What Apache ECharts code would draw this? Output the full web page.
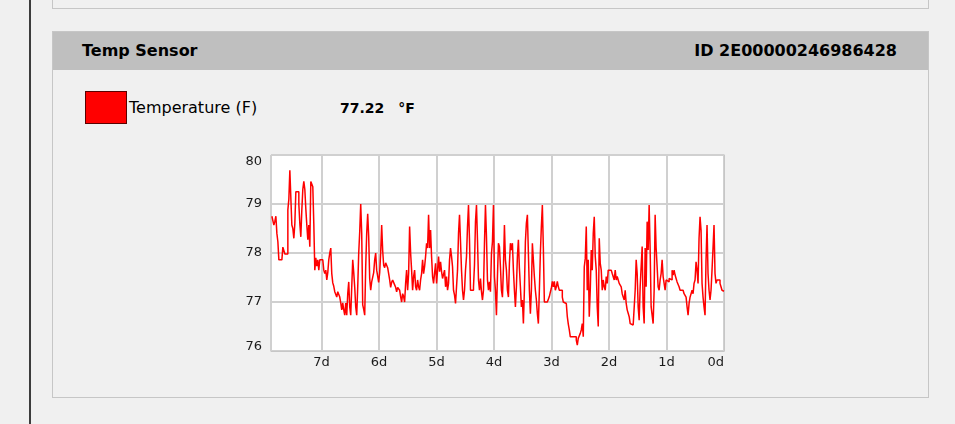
<!DOCTYPE html>
<html>
<head>
<meta charset="utf-8">
<title>Temp Sensor</title>
<script src="https://cdn.jsdelivr.net/npm/echarts@6/dist/echarts.min.js"></script>
<style>
  html, body { margin: 0; padding: 0; }
  body {
    width: 955px; height: 424px; overflow: hidden; position: relative;
    background: #f0f0f0; font-family: "DejaVu Sans", sans-serif; color: #000;
  }
  .vline { position: absolute; left: 29px; top: 0; width: 2px; height: 424px; background: #3c3c3c; }
  .prev { position: absolute; left: 52px; top: -10px; width: 875px; height: 17px; border: 1px solid #c6c6c6; background: #f0f0f0; }
  .panel { position: absolute; left: 52px; top: 31px; width: 875px; height: 365px; border: 1px solid #c6c6c6; background: #f0f0f0; }
  .head {
    position: absolute; left: 53px; top: 32px; width: 875px; height: 38px; background: #bfbfbf;
    font-weight: bold; font-size: 16px; line-height: 38px;
  }
  .head .title { position: absolute; left: 29px; }
  .head .id { position: absolute; right: 31px; }
  .swatch { position: absolute; left: 85px; top: 91px; width: 40px; height: 31px; background: #ff0000; border: 1px solid #5a0000; }
  .lbl { position: absolute; left: 129px; top: 98px; font-size: 16px; line-height: 20px; }
  .val { position: absolute; left: 340px; top: 98px; font-size: 14px; font-weight: bold; line-height: 20px; }
  .val .unit { margin-left: 14px; }
  #chart { position: absolute; left: 0; top: 0; width: 955px; height: 424px; }
</style>
</head>
<body>
<div class="vline"></div>
<div class="prev"></div>
<div class="panel"></div>
<div class="head"><span class="title">Temp Sensor</span><span class="id">ID 2E00000246986428</span></div>
<div class="swatch"></div>
<div class="lbl">Temperature (F)</div>
<div class="val">77.22<span class="unit">°F</span></div>
<div id="chart"></div>

<script>
// readings every 25 minutes, oldest first (°F)
var STEP_MIN = 25;
var temps = [
  78.75, 78.75, 78.57, 78.65, 78.75, 78.40, 78.23, 77.86, 77.86, 77.86,
  77.86, 78.12, 78.12, 77.98, 77.98, 77.98, 78.88, 79.10, 79.69, 79.12,
  78.57, 78.50, 78.30, 78.60, 79.25, 79.25, 79.25, 79.00, 78.60, 78.33,
  78.88, 79.30, 79.46, 79.30, 78.90, 78.57, 78.27, 78.57, 78.13, 79.46,
  79.46, 79.35, 78.60, 77.65, 77.90, 77.73, 77.86, 77.65, 77.86, 77.86,
  77.86, 77.86, 77.65, 77.58, 77.65, 77.45, 77.60, 77.86, 78.00, 78.10,
  77.58, 77.39, 77.32, 77.21, 77.21, 77.10, 77.21, 77.21, 77.10, 76.98,
  76.84, 76.98, 76.84, 76.73, 76.98, 76.73, 77.17, 77.41, 76.90, 76.73,
  77.30, 77.86, 77.60, 77.30, 76.90, 76.73, 77.30, 78.00, 78.43, 79.00,
  78.40, 76.94, 76.85, 76.73, 77.72, 78.40, 78.80, 78.33, 77.48, 77.24,
  77.41, 77.45, 77.60, 77.86, 78.00, 77.65, 77.65, 77.40, 77.60, 78.00,
  78.57, 78.05, 77.75, 77.70, 77.80, 77.80, 77.70, 77.58, 77.45, 77.30,
  77.40, 77.45, 77.41, 77.35, 77.30, 77.21, 77.30, 77.28, 77.24, 77.11,
  77.00, 77.17, 77.11, 77.00, 77.38, 77.65, 77.24, 77.58, 78.54, 78.00,
  77.65, 77.24, 77.52, 77.65, 77.31, 77.24, 77.45, 77.31, 77.24, 77.45,
  77.58, 77.86, 77.58, 77.72, 77.93, 78.20, 78.10, 78.78, 78.10, 78.47,
  77.93, 77.52, 77.38, 77.42, 77.79, 77.38, 77.65, 77.93, 77.62, 77.82,
  77.62, 77.48, 77.45, 77.65, 77.31, 77.52, 77.24, 77.38, 77.86, 78.10,
  77.93, 77.72, 77.24, 77.14, 76.97, 77.00, 77.65, 78.40, 78.78, 78.23,
  77.65, 77.24, 77.04, 77.24, 77.65, 77.93, 78.54, 78.98, 78.27, 77.24,
  77.24, 77.24, 77.31, 77.76, 78.64, 78.98, 78.27, 77.45, 77.24, 77.48,
  77.21, 77.04, 77.24, 78.20, 78.98, 78.33, 77.45, 77.24, 77.41, 77.21,
  77.99, 78.23, 78.98, 77.52, 77.24, 76.73, 77.52, 78.20, 78.13, 77.72,
  77.24, 77.10, 77.69, 78.57, 77.86, 77.65, 77.24, 77.10, 77.79, 78.20,
  78.06, 78.20, 77.65, 77.24, 76.90, 77.31, 77.93, 78.27, 77.69, 77.31,
  76.90, 77.04, 76.56, 77.24, 78.23, 78.61, 78.78, 78.00, 77.24, 76.76,
  77.24, 78.20, 78.20, 77.52, 77.24, 77.04, 76.76, 76.56, 77.24, 77.99,
  78.54, 78.98, 78.10, 77.00, 77.00, 77.00, 77.00, 77.00, 77.11, 77.20,
  77.28, 77.42, 77.31, 77.42, 77.24, 77.31, 77.42, 77.31, 77.24, 77.24,
  77.24, 77.10, 77.00, 76.97, 76.97, 76.97, 76.70, 76.55, 76.43, 76.29,
  76.29, 76.29, 76.29, 76.29, 76.29, 76.22, 76.12, 76.26, 76.30, 76.36,
  76.43, 76.56, 76.29, 77.72, 77.89, 78.54, 77.24, 77.86, 76.70, 77.24,
  78.06, 77.65, 78.40, 78.74, 77.93, 77.65, 76.90, 76.50, 78.30, 77.79,
  77.65, 77.24, 77.45, 77.31, 77.24, 77.52, 77.38, 77.65, 77.65, 77.65,
  77.65, 77.58, 77.58, 77.45, 77.65, 77.45, 77.52, 77.45, 77.38, 77.35,
  77.31, 77.17, 77.10, 77.04, 77.24, 76.97, 76.84, 76.77, 76.70, 76.56,
  76.53, 76.53, 76.53, 76.53, 77.24, 77.86, 77.58, 76.90, 76.63, 77.31,
  77.31, 78.13, 76.90, 76.56, 78.10, 77.31, 78.64, 78.06, 78.98, 78.06,
  76.90, 76.87, 76.56, 77.24, 78.78, 78.10, 77.72, 77.31, 77.24, 77.45,
  77.58, 77.86, 77.52, 77.38, 77.24, 77.45, 77.45, 77.41, 77.48, 77.48,
  77.45, 77.65, 77.55, 77.65, 77.55, 77.48, 77.41, 77.45, 77.31, 77.24,
  77.24, 77.24, 77.24, 77.17, 77.17, 77.10, 76.90, 76.73, 76.97, 77.10,
  77.17, 77.24, 77.17, 77.38, 77.45, 77.82, 77.65, 77.38, 78.30, 78.74,
  78.47, 77.38, 77.10, 76.90, 76.73, 77.86, 78.57, 77.58, 77.24, 77.04,
  77.24, 77.65, 78.10, 78.57, 77.58, 77.38, 77.45, 77.41, 77.45, 77.38,
  77.31, 77.24, 77.24, 77.22
];
var yTicks = [76, 77, 78, 79, 80];
var daysBack = 7.88;

var chartDom = document.getElementById('chart');
var myChart = echarts.init(chartDom, null, { renderer: 'canvas' });

var points = temps.map(function (t, i) {
  return [(temps.length - 1 - i) * STEP_MIN / 1440, t];
});

var fontFamily = '"DejaVu Sans", sans-serif';

var option = {
  animation: false,
  backgroundColor: 'transparent',
  grid: {
    left: 271,
    top: 155,
    width: 453,
    height: 196,
    show: true,
    backgroundColor: '#ffffff',
    borderColor: '#c6c6c6',
    borderWidth: 1
  },
  xAxis: {
    type: 'value',
    inverse: true,
    min: 0,
    max: daysBack,
    interval: 1,
    axisLine: { show: true, lineStyle: { color: '#c6c6c6', width: 1 } },
    axisTick: { show: false },
    splitLine: { show: true, lineStyle: { color: '#d0d0d0', width: 2 } },
    axisLabel: {
      showMaxLabel: false,
      alignMinLabel: 'right',
      margin: 5,
      fontSize: 13,
      fontFamily: fontFamily,
      color: '#1a1a1a',
      formatter: function (v) {
        return Math.abs(v - Math.round(v)) < 1e-6 ? Math.round(v) + 'd' : '';
      }
    }
  },
  yAxis: {
    type: 'value',
    min: yTicks[0],
    max: yTicks[yTicks.length - 1],
    interval: 1,
    axisLine: { show: true, lineStyle: { color: '#c6c6c6', width: 1 } },
    axisTick: { show: false },
    splitLine: { show: true, lineStyle: { color: '#d0d0d0', width: 2 } },
    axisLabel: {
      margin: 9,
      fontSize: 13,
      fontFamily: fontFamily,
      color: '#1a1a1a',
      verticalAlignMaxLabel: 'top',
      // lowest label sits a little above its grid line
      formatter: function (v) {
        return v === yTicks[0] ? '{lo|' + v + '}' : String(v);
      },
      rich: {
        lo: { fontSize: 13, fontFamily: fontFamily, color: '#1a1a1a', padding: [0, 0, 8, 0] }
      }
    }
  },
  series: [
    {
      name: 'Temperature (F)',
      type: 'line',
      step: 'end',
      data: points,
      showSymbol: false,
      silent: true,
      lineStyle: { color: '#ff0000', width: 1.5 }
    }
  ]
};

myChart.setOption(option);
</script>
</body>
</html>
